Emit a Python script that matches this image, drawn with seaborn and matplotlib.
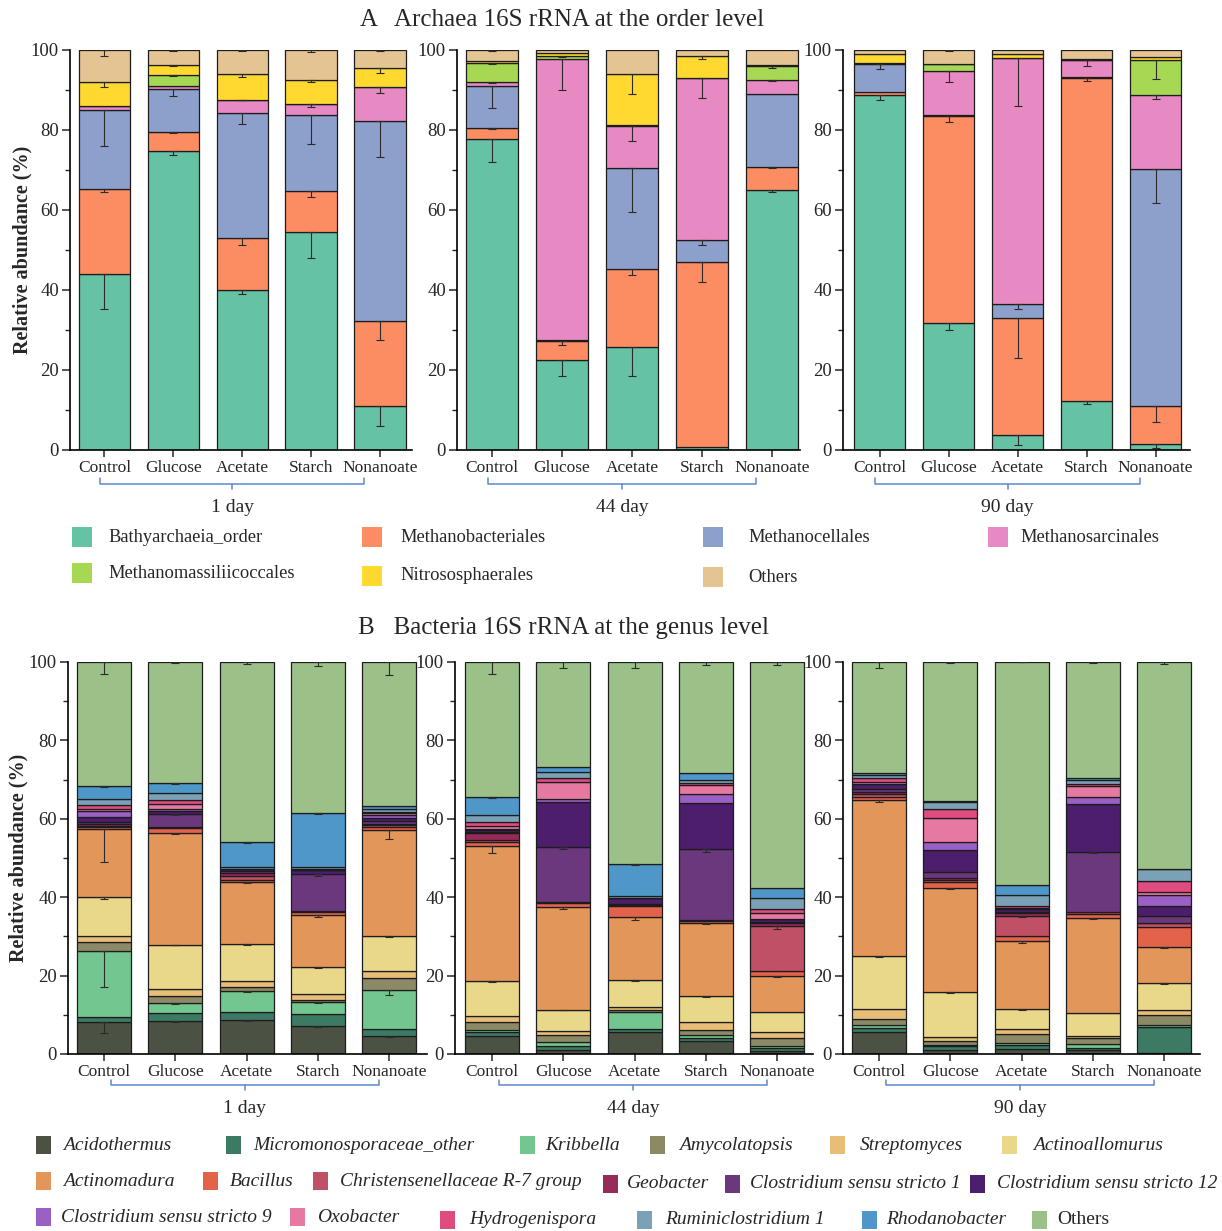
"""Archaea (order) and Bacteria (genus) relative abundance: stacked bars with error bars."""

import matplotlib.pyplot as plt
import matplotlib.transforms as mtransforms
import numpy as np
import seaborn as sns
from matplotlib.patches import Rectangle
from matplotlib.ticker import MultipleLocator

conditions = ["Control", "Glucose", "Acetate", "Starch", "Nonanoate"]
days = ["1 day", "44 day", "90 day"]

# ---- Panel A: archaea, order level (segments in %, 5 conditions x 3 days) ----
archaea_names = ["Bathyarchaeia_order", "Methanobacteriales", "Methanocellales",
                 "Methanosarcinales", "Methanomassiliicoccales", "Nitrososphaerales", "Others"]
bathyarchaeia = [44.0, 74.7, 39.9, 54.4, 11.0, 77.7, 22.6, 25.7, 0.8, 64.9, 88.8, 31.8, 3.8, 12.3, 1.4]
methanobacteriales = [21.3, 4.8, 13.2, 10.3, 21.3, 2.9, 4.7, 19.5, 46.3, 5.9, 0.8, 51.6, 29.2, 80.8, 9.5]
methanocellales = [19.8, 10.8, 31.2, 19.1, 49.9, 10.4, 0.3, 25.3, 5.3, 18.3, 6.9, 0.4, 3.6, 0.2, 59.3]
methanosarcinales = [0.9, 0.7, 3.3, 2.7, 8.6, 1.0, 70.1, 10.5, 40.5, 3.5, 0.2, 10.9, 61.3, 4.2, 18.6]
methanomassiliicoccales = [0.0, 2.7, 0.0, 0.0, 0.0, 4.7, 0.9, 0.2, 0.2, 3.3, 0.0, 1.7, 0.2, 0.0, 8.8]
nitrososphaerales = [6.0, 2.5, 6.4, 5.9, 4.6, 0.5, 0.6, 12.9, 5.5, 0.4, 2.3, 0.2, 0.9, 0.3, 0.6]
archaea_others = [8.0, 3.8, 6.0, 7.6, 4.6, 2.8, 0.8, 5.9, 1.4, 3.7, 1.0, 3.4, 1.0, 2.2, 1.8]

# downward error bars from each segment top
bathyarchaeia_err = [8.8, 1.0, 0.9, 6.4, 4.9, 5.6, 4.0, 7.1, 0.0, 0.5, 1.2, 1.7, 2.5, 0.9, 0.8]
methanobacteriales_err = [0.8, 0.3, 1.8, 1.5, 4.8, 0.3, 1.0, 1.4, 5.0, 0.3, 0.0, 1.3, 10.0, 0.9, 3.8]
methanocellales_err = [9.1, 1.8, 2.9, 7.4, 9.0, 5.5, 0.0, 10.9, 1.2, 0.0, 1.3, 0.0, 1.3, 0.0, 8.4]
methanosarcinales_err = [0.0, 0.0, 0.1, 0.8, 1.5, 0.3, 7.8, 3.7, 5.0, 0.3, 0.0, 2.6, 12.0, 1.4, 1.1]
methanomassiliicoccales_err = [0.0, 0.3, 0.0, 0.0, 0.0, 0.3, 0.3, 0.0, 0.0, 0.3, 0.0, 0.0, 0.0, 0.0, 4.9]
nitrososphaerales_err = [1.3, 0.2, 0.7, 0.4, 1.1, 0.0, 0.0, 5.1, 0.9, 0.0, 0.0, 0.0, 0.0, 0.0, 0.0]
archaea_others_err = [1.5, 0.3, 0.3, 0.5, 0.3, 0.3, 0.0, 0.0, 0.0, 0.0, 0.0, 0.3, 0.0, 0.0, 0.0]

archaea_vals = [bathyarchaeia, methanobacteriales, methanocellales, methanosarcinales,
                methanomassiliicoccales, nitrososphaerales, archaea_others]
archaea_errs = [bathyarchaeia_err, methanobacteriales_err, methanocellales_err, methanosarcinales_err,
                methanomassiliicoccales_err, nitrososphaerales_err, archaea_others_err]
archaea_colors = sns.color_palette("Set2", 7)

# ---- Panel B: bacteria, genus level ----
bacteria_names = ["Acidothermus", "Micromonosporaceae_other", "Kribbella", "Amycolatopsis",
                  "Streptomyces", "Actinoallomurus", "Actinomadura", "Bacillus",
                  "Christensenellaceae R-7 group", "Geobacter", "Clostridium sensu stricto 1",
                  "Clostridium sensu stricto 12", "Clostridium sensu stricto 9", "Oxobacter",
                  "Hydrogenispora", "Ruminiclostridium 1", "Rhodanobacter", "Others"]
acidothermus = [8.1, 8.5, 8.7, 7.2, 4.5, 4.5, 1.1, 5.6, 3.4, 0.8, 5.6, 1.1, 1.4, 1.1, 0.2]
micromonosporaceae = [1.4, 1.9, 2.0, 3.0, 2.0, 1.1, 0.9, 0.9, 0.8, 0.7, 1.0, 0.9, 0.8, 0.4, 6.8]
kribbella = [16.9, 2.6, 5.3, 3.0, 9.9, 0.6, 1.0, 4.2, 0.7, 0.5, 0.9, 0.2, 0.6, 1.1, 0.5]
amycolatopsis = [2.2, 1.7, 1.1, 0.6, 3.0, 1.9, 1.9, 0.4, 1.3, 2.1, 1.4, 1.0, 2.4, 1.5, 2.5]
streptomyces = [1.5, 1.9, 1.4, 1.6, 1.8, 1.7, 1.0, 0.8, 1.9, 1.4, 2.6, 1.1, 1.3, 0.4, 1.3]
actinoallomurus = [9.9, 11.3, 9.5, 6.9, 8.8, 8.9, 5.4, 7.0, 6.6, 5.2, 13.4, 11.5, 5.0, 5.9, 6.8]
actinomadura = [17.4, 28.6, 16.0, 13.2, 27.1, 34.4, 26.1, 16.0, 18.7, 9.2, 39.9, 26.5, 17.2, 24.4, 9.3]
bacillus = [0.4, 1.1, 0.4, 0.8, 0.9, 0.9, 1.1, 2.9, 0.6, 1.4, 0.8, 1.5, 1.3, 0.9, 4.9]
christensenellaceae = [0.4, 0.2, 1.0, 0.2, 0.4, 0.6, 0.2, 0.1, 0.1, 11.4, 0.7, 0.6, 5.3, 0.6, 1.1]
geobacter = [0.6, 0.2, 0.9, 0.0, 0.4, 1.7, 0.0, 0.2, 0.0, 0.8, 0.6, 0.6, 0.6, 0.0, 0.0]
clostridium_1 = [0.5, 3.2, 0.3, 9.4, 0.6, 0.4, 14.2, 0.2, 18.1, 0.3, 0.8, 1.5, 0.3, 15.3, 1.8]
clostridium_12 = [1.1, 0.7, 0.5, 1.0, 0.7, 0.4, 11.4, 1.4, 11.9, 0.7, 1.3, 5.5, 0.9, 12.2, 2.6]
clostridium_9 = [1.5, 0.7, 0.0, 0.0, 0.9, 0.2, 0.7, 0.0, 2.1, 0.0, 0.0, 2.0, 0.0, 1.8, 2.8]
oxobacter = [0.7, 1.3, 0.0, 0.0, 0.4, 0.9, 4.4, 0.0, 2.4, 1.4, 0.3, 6.1, 0.2, 2.8, 0.8]
hydrogenispora = [0.9, 1.0, 0.2, 0.2, 0.4, 1.1, 1.1, 0.0, 0.6, 1.0, 1.0, 2.4, 0.5, 0.6, 2.8]
ruminiclostridium = [1.5, 1.6, 0.5, 0.7, 0.6, 1.7, 1.5, 0.7, 0.8, 2.8, 0.8, 1.7, 2.8, 0.9, 2.9]
rhodanobacter = [3.4, 2.7, 6.2, 13.7, 0.8, 4.6, 1.1, 8.0, 1.7, 2.6, 0.6, 0.3, 2.4, 0.6, 0.0]
bacteria_others = [31.6, 30.8, 46.0, 38.5, 36.8, 34.4, 26.9, 51.6, 28.3, 57.7, 28.3, 35.5, 57.0, 29.5, 52.9]

bacteria_vals = [acidothermus, micromonosporaceae, kribbella, amycolatopsis, streptomyces,
                 actinoallomurus, actinomadura, bacillus, christensenellaceae, geobacter,
                 clostridium_1, clostridium_12, clostridium_9, oxobacter, hydrogenispora,
                 ruminiclostridium, rhodanobacter, bacteria_others]

# error bars (only the visible ones), keyed by genus
bacteria_errs = {
    "Acidothermus": [2.8, 0.3, 0.3, 0.2, 0.2, 0, 0, 0, 0.2, 0, 0, 0, 0, 0, 0],
    "Kribbella": [9.2, 0.2, 0.3, 0.2, 1.3, 0, 0, 0, 0, 0, 0, 0, 0, 0, 0],
    "Actinoallomurus": [0.5, 0.1, 0.2, 0.3, 0.2, 0.3, 0.2, 0.2, 0.2, 0, 0.2, 0.2, 0.2, 0, 0.2],
    "Actinomadura": [8.3, 0.3, 0.5, 0.5, 2.3, 1.7, 0.5, 0.8, 0.3, 0.3, 0.5, 0.3, 0.5, 0.4, 0.3],
    "Christensenellaceae R-7 group": [0, 0, 0, 0, 0, 0, 0, 0, 0, 0.8, 0, 0, 0.3, 0, 0],
    "Clostridium sensu stricto 1": [0, 0.3, 0, 0.5, 0, 0, 0.5, 0, 0.6, 0, 0, 0, 0, 0.2, 0],
    "Rhodanobacter": [0.3, 0.3, 0.2, 0.4, 0, 0.2, 0, 0.2, 0, 0, 0, 0, 0, 0, 0],
    "Others": [3.0, 0.2, 0.5, 1.0, 3.4, 3.0, 1.5, 1.5, 0.8, 0.8, 1.5, 0.3, 0.1, 0.3, 0.5],
}
bacteria_colors = ["#4b5244", "#3d7a63", "#74c691", "#8c8a66", "#e8bd78", "#e9d78a",
                   "#e2965a", "#e2624a", "#c05065", "#962b5a", "#6b387e", "#4c1e6c",
                   "#9a60c4", "#e579a2", "#df4c80", "#7aa1b5", "#4f96c9", "#9bc188"]

# ---- style ----
sns.set_style("ticks")
plt.rcParams["font.family"] = ["Liberation Serif", "DejaVu Serif"]
plt.rcParams["axes.linewidth"] = 1.2
plt.rcParams["axes.edgecolor"] = "black"

W, H = 1222, 1231
fig = plt.figure(figsize=(W / 100, H / 100), dpi=100)
BRACKET = "#5b87d0"


def px_axes(left, top, right, bottom):
    return fig.add_axes([left / W, 1 - bottom / H, (right - left) / W, (bottom - top) / H])


def stacked(ax, values, errors, colors, day, width):
    sl = slice(5 * day, 5 * day + 5)
    xs = np.arange(5)
    base = np.zeros(5)
    for vals, err, col in zip(values, errors, colors):
        v = np.array(vals[sl], dtype=float)
        sns.barplot(x=conditions, y=v, bottom=base, color=col, width=width, saturation=1,
                    errorbar=None, edgecolor="#1c1c1c", linewidth=0.9, ax=ax)
        top = base + v
        if err is not None:
            e = np.array(err[sl], dtype=float)
            m = e > 0
            if m.any():
                ax.errorbar(xs[m], top[m], yerr=[e[m], np.zeros(m.sum())], fmt="none",
                            ecolor="#2a2a2a", elinewidth=0.8, capsize=3, capthick=0.8)
        base = top


def style_axes(ax, xlim, bracket, label_y, label):
    ax.set_xlim(*xlim)
    ax.set_ylim(0, 100)
    ax.set_xlabel("")
    ax.set_ylabel("")
    ax.yaxis.set_major_locator(MultipleLocator(20))
    ax.yaxis.set_minor_locator(MultipleLocator(10))
    ax.tick_params(axis="y", which="major", direction="out", length=6, width=1.1, labelsize=13.5, pad=2)
    ax.tick_params(axis="y", which="minor", direction="out", length=3.5, width=1.0)
    ax.tick_params(axis="x", direction="out", length=5, width=1.1, labelsize=12.5, pad=2)
    sns.despine(ax=ax)
    x0, x1, yb, yup, ydn = bracket
    tr = mtransforms.blended_transform_factory(ax.transData, ax.transAxes)
    ax.plot([x0, x0, x1, x1], [yup, yb, yb, yup], transform=tr, clip_on=False,
            color=BRACKET, lw=1.1)
    xm = (x0 + x1) / 2
    ax.plot([xm, xm], [yb, ydn], transform=tr, clip_on=False, color=BRACKET, lw=1.1)
    ax.text(xm, label_y, label, transform=tr, ha="center", va="center", fontsize=14)


# ---- Panel A axes ----
a_boxes = [(70, 50, 412, 450), (457, 50, 800, 450), (843, 50, 1190, 450)]
a_xlims = [(-0.5, 4.46), (-0.5, 4.4), (-0.53, 4.5)]
for d in range(3):
    ax = px_axes(*a_boxes[d])
    stacked(ax, archaea_vals, archaea_errs, archaea_colors, d, 0.75)
    style_axes(ax, a_xlims[d], (-0.06, 3.77, -0.085, -0.071, -0.098), -0.145, days[d])

# ---- Panel B axes ----
b_boxes = [(68, 662, 427, 1054), (455, 662, 813, 1054), (843, 662, 1200, 1054)]
b_xlims = [(-0.505, 4.53), (-0.52, 4.5), (-0.505, 4.5)]
b_err_list = [bacteria_errs.get(n) for n in bacteria_names]
for d in range(3):
    ax = px_axes(*b_boxes[d])
    stacked(ax, bacteria_vals, b_err_list, bacteria_colors, d, 0.76)
    style_axes(ax, b_xlims[d], (0.1, 3.85, -0.079, -0.066, -0.092), -0.138, days[d])

# ---- titles and y labels ----
fig.text(562 / W, 1 - 20 / H, "A   Archaea 16S rRNA at the order level", ha="center", va="center", fontsize=18)
fig.text(563 / W, 1 - 628 / H, "B   Bacteria 16S rRNA at the genus level", ha="center", va="center", fontsize=18)
fig.text(22 / W, 1 - 250 / H, "Relative abundance (%)", rotation=90, ha="center", va="center",
         fontsize=14.5, fontweight="bold")
fig.text(18 / W, 1 - 858 / H, "Relative abundance (%)", rotation=90, ha="center", va="center",
         fontsize=14.5, fontweight="bold")


def key(x, y, w, h, color, text, tx, size, style="normal"):
    fig.add_artist(Rectangle((x / W, 1 - (y + h / 2) / H), w / W, h / H, transform=fig.transFigure,
                             facecolor=color, edgecolor="none"))
    fig.text(tx / W, 1 - y / H, text, ha="left", va="center", fontsize=size, fontstyle=style)


# ---- Panel A legend ----
a_key_pos = [(72, 537, 108), (362, 537, 400), (703, 537, 748), (988, 537, 1020),
             (72, 573, 108), (362, 576, 400), (703, 577, 748)]
for (kx, ky, tx), name, col in zip(a_key_pos, archaea_names, archaea_colors):
    key(kx, ky, 20, 20, col, name, tx, 13.3)

# ---- Panel B legend ----
b_key_pos = [(36, 1145, 63), (226, 1145, 253), (520, 1145, 545), (650, 1145, 679), (830, 1145, 860),
             (1002, 1145, 1033),
             (36, 1181, 63), (203, 1181, 230), (313, 1181, 340), (603, 1184, 627), (725, 1184, 750),
             (970, 1184, 997),
             (36, 1217, 61), (290, 1217, 317), (440, 1220, 469), (637, 1220, 665), (862, 1220, 886),
             (1032, 1220, 1057)]
for (kx, ky, tx), name, col in zip(b_key_pos, bacteria_names, bacteria_colors):
    key(kx, ky, 15, 18, col, name, tx, 14, "normal" if name == "Others" else "italic")

fig.savefig("out.png", dpi=100)
print("Saved out.png")
